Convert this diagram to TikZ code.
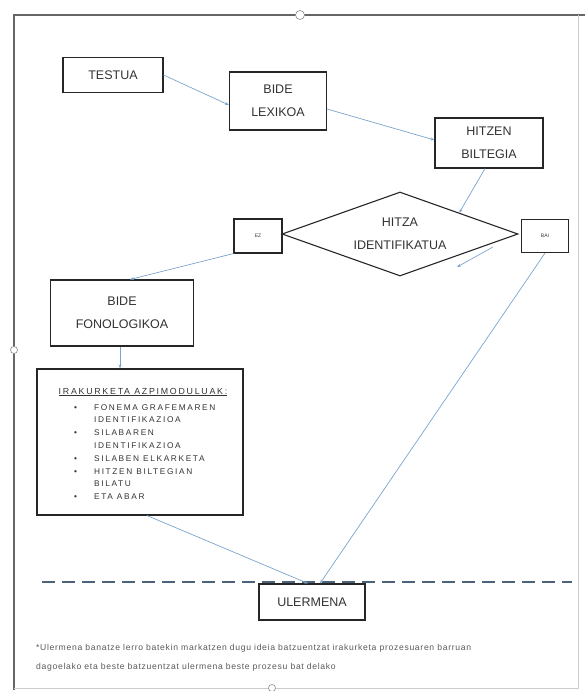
\documentclass[tikz,border=0pt]{standalone}
\usepackage{fontspec}
\setmainfont{Liberation Sans}
\newfontfamily\spacedfont[LetterSpace=20]{Liberation Sans}
\newfontfamily\notefont[LetterSpace=8]{Liberation Sans}
\usetikzlibrary{shapes.geometric, arrows.meta}

\definecolor{linkblue}{RGB}{122,164,204}
\definecolor{dashblue}{RGB}{76,98,122}
\definecolor{boxtext}{RGB}{50,50,50}

\begin{document}
\begin{tikzpicture}
    [x=1pt, y=-1pt,
     every node/.style={text=boxtext},
     box/.style={draw=black!85, line width=1.1pt, align=center, inner sep=0pt,
                 font=\fontsize{12.5}{23}\selectfont},
     tinybox/.style={draw=black!85, line width=1.1pt, inner sep=0pt,
                     font=\fontsize{5}{6}\selectfont},
     link/.style={draw=linkblue, line width=0.7pt, -{Stealth[length=4pt, width=3pt]}},
     handle/.style={draw=black!45, fill=white, line width=0.6pt}]

    \useasboundingbox (0,0) rectangle (585,691);

    % page frame
    \draw[black!60, line width=1.8pt] (14,690) -- (14,15) -- (585,15);
    \draw[black!20, line width=0.8pt] (578,15) -- (578,688) -- (14,688);
    \draw[handle] (300,15) circle (4.5);
    \draw[handle] (14,350) circle (3.5);
    \draw[handle] (272,688) circle (3.5);

    % boxes
    \node[box, minimum width=100, minimum height=35] (testua) at (113,75) {TESTUA};
    \node[box, minimum width=97, minimum height=58] (lexikoa) at (278,101) {BIDE\\LEXIKOA};
    \node[box, minimum width=108, minimum height=50] (biltegia) at (489,143) {HITZEN\\BILTEGIA};
    \node[box, shape=diamond, aspect=2.8, minimum width=236, minimum height=84]
      (ident) at (400,234) {HITZA\\IDENTIFIKATUA};
    \node[tinybox, minimum width=48, minimum height=34] (ez) at (258,236) {EZ};
    \node[tinybox, minimum width=47, minimum height=33] (bai) at (545,236) {BAI};
    \node[box, minimum width=143, minimum height=66] (fonologikoa) at (122,313) {BIDE\\FONOLOGIKOA};
    \node[box, minimum width=206, minimum height=146] (modu) at (140,442) {};
    \node[box, minimum width=106, minimum height=36] (ulermena) at (312,602) {ULERMENA};

    % reading sub-modules
    \node[font=\spacedfont\fontsize{8.8}{10}\selectfont] (modutitle) at (143,392)
      {\underline{IRAKURKETA AZPIMODULUAK:}};
    \node[anchor=north west, inner sep=0pt, font=\spacedfont\fontsize{8.3}{12.8}\selectfont]
      (modulist) at (74,401)
      {\begin{tabular}{@{}l@{\hspace{17pt}}l@{}}
        \textbullet & FONEMA GRAFEMAREN\\
                    & IDENTIFIKAZIOA\\
        \textbullet & SILABAREN\\
                    & IDENTIFIKAZIOA\\
        \textbullet & SILABEN ELKARKETA\\
        \textbullet & HITZEN BILTEGIAN\\
                    & BILATU\\
        \textbullet & ETA ABAR
      \end{tabular}};

    % dividing line
    \coordinate (dashl) at (42,582);
    \coordinate (dashr) at (572,582);
    \draw[dashblue, line width=2.2pt, dash pattern=on 13pt off 7pt] (dashl) -- (dashr);

    % connectors
    \draw[link] (testua.east) -- ([yshift=-4pt]lexikoa.west);
    \draw[link] ([yshift=-8pt]lexikoa.east) -- ([yshift=3pt]biltegia.west);
    \draw[link] ([xshift=-4pt]biltegia.south) -- (ident.north east);
    \coordinate (baitail) at (493,247);
    \coordinate (baitip) at (457,267);
    \draw[link] (baitail) -- (baitip);
    \draw[link] (ez.south west) -- ([xshift=8pt]fonologikoa.north);
    \draw[link] ([xshift=-2pt]fonologikoa.south) -- ([xshift=-2pt]fonologikoa.south |- modu.north);
    \draw[link] ([xshift=7pt]modu.south) -- ([xshift=-4pt]ulermena.north);
    \draw[link] (bai.south) -- ([xshift=8pt]ulermena.north);

    % note
    \node[anchor=north west, align=left, inner sep=0pt, text=black!65,
          font=\notefont\fontsize{8.6}{19}\selectfont] (note) at (36,644)
      {*Ulermena banatze lerro batekin markatzen dugu ideia batzuentzat irakurketa prozesuaren barruan\\
       dagoelako eta beste batzuentzat ulermena beste prozesu bat delako};

\end{tikzpicture}
\end{document}
